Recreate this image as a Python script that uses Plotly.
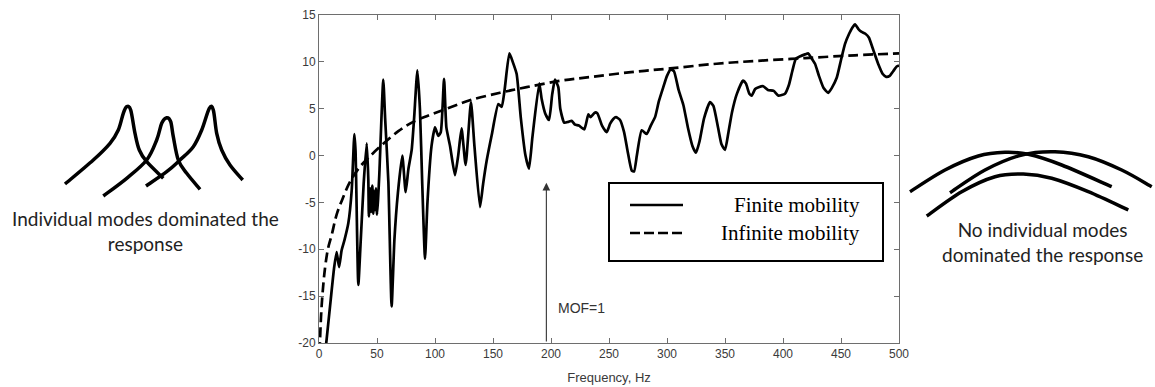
import plotly.graph_objects as go

# ---------------- data ----------------
finite_freq = [6, 10, 13, 15.2, 17.3, 19.5, 22, 25.3, 28.2, 30.5, 31.5, 33.9, 36, 38.5, 41.1,
               42.5, 43, 44, 45, 46, 46.8, 47.5, 48.3, 49, 50, 51, 52, 55.4, 57, 59.8, 62.6,
               65, 68, 71.8, 74.7, 77, 79.9, 82, 84.8, 87, 89, 91.4, 93.5, 97, 100, 102.8,
               105, 107.8, 109.8, 113, 117.2, 120, 122.9, 126.4, 131, 134, 138.8, 141.5,
               144.6, 148.9, 154.6, 157.5, 160, 164.1, 167, 170.4, 174, 178, 181, 184,
               189.9, 192, 195, 198.3, 201, 203.4, 206.3, 208, 211.5, 215, 217.8, 220.7,
               224, 228.7, 232.2, 234, 237.9, 240, 244, 248, 251, 253.7, 256, 259.5, 263,
               266, 269.6, 271.6, 274, 278.2, 282.5, 286, 289.7, 293, 296.8, 300, 303.2,
               306, 310, 314.1, 318, 322, 325, 328, 332, 337.1, 340, 344, 347, 350, 353,
               356, 360, 365.5, 368, 371, 373, 376, 379, 383, 387, 392, 396, 401.7, 405,
               408, 411, 415, 419, 421.8, 424, 427.6, 431, 435, 439, 442, 446.3, 450,
               453.4, 457, 460, 462.1, 465, 467.8, 471, 474, 478, 482, 486, 489, 492, 495,
               498, 500]
finite_mob = [-20.3, -15.5, -12, -10.3, -11.9, -10.1, -9.0, -7.2, -3.7, 2.3, 0.5, -13.8, -9, -3, 1.3,
              -2.5, -6.5, -3.5, -6.0, -3.2, -6.2, -3.8, -5.8, -3.5, -6.3, -4.5, -2.0, 8.1, 4, -2.8, -16.1,
              -9, -4, 0, -3.9, -1.5, 0.6, 4, 9.1, 5, -3, -11, -5, 1, 3.0, 2.1,
              2.5, 8.2, 3.0, 1, -2.1, 0, 2.9, -1.0, 5.7, 1, -5.5, -3,
              -0.5, 2.2, 5.5, 5.2, 7, 10.9, 10, 8.7, 4, 0, -1.4, 2,
              7.7, 6, 4.5, 3.8, 6.5, 8.1, 7.3, 5, 3.5, 3.6, 3.7, 3.3,
              3.2, 2.8, 4.4, 4.1, 4.6, 4.5, 3.2, 2.5, 3.4, 3.9, 4.1, 3.8, 2.5,
              0.5, -1.6, -1.7, 0, 2.7, 2.3, 3.2, 4.1, 5.8, 7.3, 8.5, 9.2,
              9.0, 7, 5.4, 3, 1, 0.3, 1.5, 4, 5.7, 5.3, 3, 1.2, 0.6, 2.5,
              4.6, 6.5, 8.0, 7.7, 6.6, 6.4, 7.1, 7.3, 7.4, 7.0, 6.9, 6.4, 6.6, 7.5,
              9, 10.3, 10.6, 10.8, 10.9, 10.5, 9.8, 8.5, 7.2, 6.7, 7.2, 8.3, 10.2,
              11.9, 13.0, 13.7, 14.0, 13.5, 13.2, 13.0, 12.6, 11.2, 9.8, 8.7, 8.4, 8.5, 9.0,
              9.5, 9.6]

infinite_freq = [0.5, 2.3, 5.2, 8, 10.9, 15.2, 21, 26.7, 35.3, 43.7, 54, 68.4, 81.3, 92.8, 110,
                 130, 156, 179, 209, 235, 269, 302.6, 342.8, 377, 419, 462, 500]
infinite_mob = [-21, -16, -12, -9.8, -8.5, -6.3, -4.4, -2.8, -1.2, -0.1, 1.1, 2.6, 3.6, 4.2, 5.0,
                5.9, 6.7, 7.3, 8.0, 8.4, 8.9, 9.3, 9.8, 10.1, 10.4, 10.7, 10.9]

x_ticks = [0, 50, 100, 150, 200, 250, 300, 350, 400, 450, 500]
y_ticks = [-20, -15, -10, -5, 0, 5, 10, 15]
series_names = ["Finite mobility", "Infinite mobility"]
mof_freq = 196
mof_top = -2.9

# ---------------- layout geometry ----------------
W, H = 1155, 387
L, R, T, B = 319, 256, 15, 44
PW, PH = W - L - R, H - T - B


def px(xp):
    return (xp - L) / PW


def py(yp):
    return (H - B - yp) / PH


def smooth_path(pts):
    """Catmull-Rom spline through pixel points -> SVG path in paper coords."""
    p = [(px(a), py(b)) for a, b in pts]
    d = "M {:.5f},{:.5f}".format(*p[0])
    for i in range(len(p) - 1):
        p0 = p[i - 1] if i > 0 else p[i]
        p1 = p[i]
        p2 = p[i + 1]
        p3 = p[i + 2] if i + 2 < len(p) else p[i + 1]
        c1 = (p1[0] + (p2[0] - p0[0]) / 6, p1[1] + (p2[1] - p0[1]) / 6)
        c2 = (p2[0] - (p3[0] - p1[0]) / 6, p2[1] - (p3[1] - p1[1]) / 6)
        d += " C {:.5f},{:.5f} {:.5f},{:.5f} {:.5f},{:.5f}".format(*c1, *c2, *p2)
    return d


fig = go.Figure()
fig.add_trace(go.Scatter(x=finite_freq, y=finite_mob, mode="lines", name=series_names[0],
                         line=dict(color="black", width=2.7, shape="spline", smoothing=0.5),
                         showlegend=False))
fig.add_trace(go.Scatter(x=infinite_freq, y=infinite_mob, mode="lines", name=series_names[1],
                         line=dict(color="black", width=2.7, dash="10px,5px", shape="spline"),
                         showlegend=False))

shapes = []
# legend box
shapes.append(dict(type="rect", xref="paper", yref="paper", x0=px(609), x1=px(883),
                   y0=py(261), y1=py(183), line=dict(color="black", width=2),
                   fillcolor="white", layer="above"))
shapes.append(dict(type="line", xref="paper", yref="paper", x0=px(630), x1=px(683),
                   y0=py(205), y1=py(205), line=dict(color="black", width=2.7)))
shapes.append(dict(type="line", xref="paper", yref="paper", x0=px(630), x1=px(683),
                   y0=py(233), y1=py(233), line=dict(color="black", width=2.7, dash="10px,4px")))

# sketches: individual modes (left)
left_peaks = [
    [(65, 184), (93.3, 160), (110, 143.3), (118.3, 130), (123.3, 113.3), (126.7, 106.7),
     (130.7, 110), (135, 133.3), (139.3, 150), (146.7, 161.7), (163.3, 178.3)],
    [(103.3, 196), (126.7, 178.3), (146.7, 160), (156.7, 140), (161.7, 123.3), (166.7, 117.7),
     (170.7, 121.7), (173.3, 136.7), (178.3, 160), (186.7, 173.3), (200, 189.3)],
    [(146, 186), (166.7, 171.7), (180, 160), (193.3, 146.7), (201.7, 130), (209.3, 108.3),
     (213.3, 110), (216.7, 133.3), (221.7, 150), (230, 165), (242.7, 180)],
]
right_arches = [
    [(910, 191.7), (945, 170), (978.3, 156), (1005, 152.3), (1028.3, 154.3), (1061.7, 165),
     (1111.7, 186.7)],
    [(950, 192.7), (985, 170), (1021.7, 155), (1055, 151.7), (1088.3, 156.7), (1121.7, 170),
     (1151.7, 186.7)],
    [(926.7, 216), (961.7, 191.7), (995, 176.7), (1023.3, 174), (1051.7, 178.3),
     (1088.3, 191.7), (1128.3, 210)],
]
for pts in left_peaks + right_arches:
    shapes.append(dict(type="path", xref="paper", yref="paper", path=smooth_path(pts),
                       line=dict(color="black", width=3.5)))

annotations = [
    dict(x=px(862), y=py(205), xref="paper", yref="paper", xanchor="right", yanchor="middle",
         text=series_names[0], showarrow=False,
         font=dict(family="Liberation Serif", size=21, color="black")),
    dict(x=px(862), y=py(233), xref="paper", yref="paper", xanchor="right", yanchor="middle",
         text=series_names[1], showarrow=False,
         font=dict(family="Liberation Serif", size=21, color="black")),
    # MOF arrow
    dict(x=mof_freq, y=mof_top, ax=mof_freq, ay=-20, xref="x", yref="y", axref="x", ayref="y",
         text="", showarrow=True, arrowhead=2, arrowsize=1.4, arrowwidth=1.1,
         arrowcolor="#333333"),
    dict(x=px(556), y=py(308), xref="paper", yref="paper", xanchor="left", yanchor="middle",
         text="MOF=1", showarrow=False,
         font=dict(family="Liberation Sans", size=14, color="#333333")),
    dict(x=px(145.5), y=py(231), xref="paper", yref="paper", xanchor="center", yanchor="middle",
         text="Individual modes dominated the<br>response", showarrow=False, align="center",
         font=dict(family="Lato", size=19, color="#222222")),
    dict(x=px(1042), y=py(241.5), xref="paper", yref="paper", xanchor="center", yanchor="middle",
         text="No individual modes<br>dominated the response", showarrow=False, align="center",
         font=dict(family="Lato", size=19, color="#222222")),
]

axis_common = dict(showline=True, linecolor="#6e6e6e", linewidth=1, mirror="ticks",
                   ticks="inside", ticklen=5, tickcolor="#6e6e6e", showgrid=False,
                   zeroline=False, automargin=False,
                   tickfont=dict(family="Liberation Sans", size=12, color="#3a3a3a"))

fig.update_layout(
    width=W, height=H,
    margin=dict(l=L, r=R, t=T, b=B, pad=0),
    paper_bgcolor="white", plot_bgcolor="white",
    xaxis=dict(range=[0, 500], tickvals=x_ticks, ticktext=[str(v) for v in x_ticks],
               title=dict(text="Frequency, Hz", standoff=12,
                          font=dict(family="Liberation Sans", size=13, color="#3a3a3a")),
               **axis_common),
    yaxis=dict(range=[-20, 15], tickvals=y_ticks, ticktext=[str(v) for v in y_ticks],
               **axis_common),
    shapes=shapes,
    annotations=annotations,
    showlegend=False,
)

fig.write_html("out.html")
